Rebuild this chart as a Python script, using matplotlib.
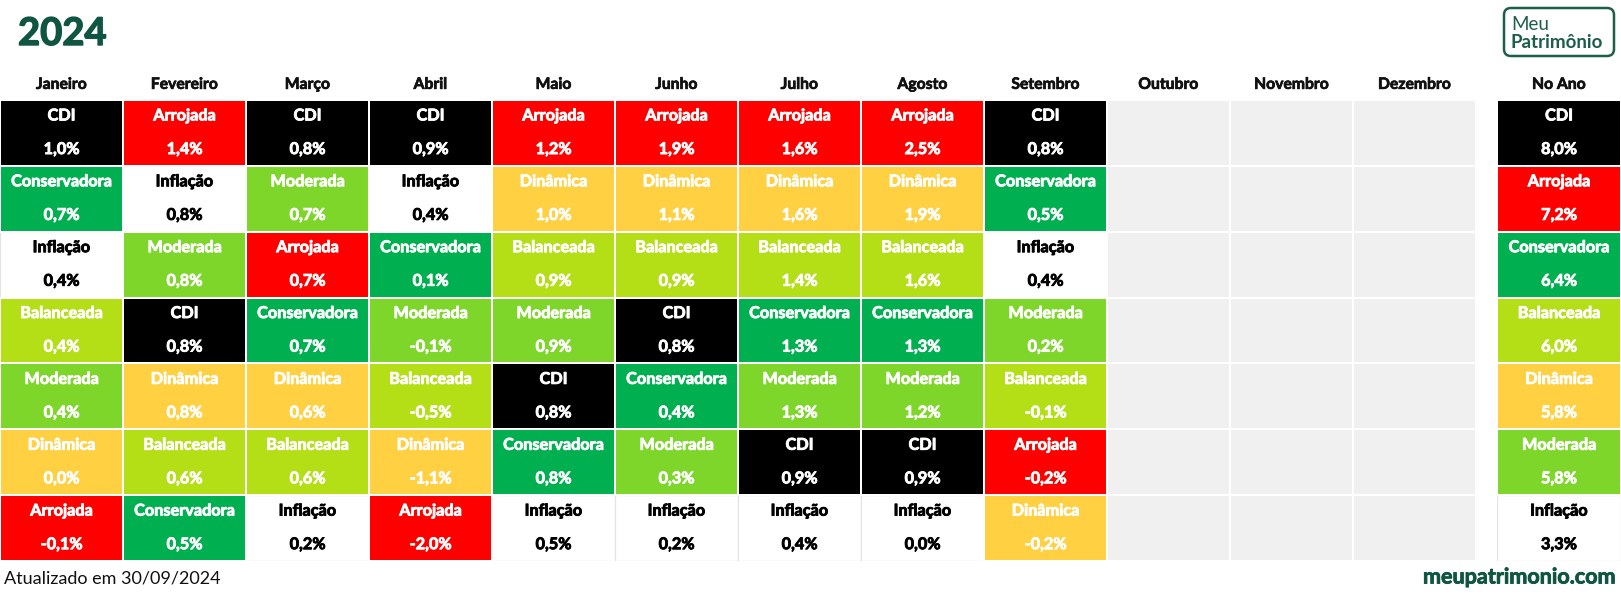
import matplotlib
matplotlib.use("Agg")
import matplotlib.pyplot as plt
from matplotlib.patches import Rectangle, FancyBboxPatch
import matplotlib.patheffects as pe

plt.rcParams['font.family'] = ['Lato', 'DejaVu Sans']

# ---------------- data ----------------
title = "2024"
months = ["Janeiro", "Fevereiro", "Março", "Abril", "Maio", "Junho", "Julho",
          "Agosto", "Setembro", "Outubro", "Novembro", "Dezembro"]

jan_names = ["CDI", "Conservadora", "Inflação", "Balanceada", "Moderada", "Dinâmica", "Arrojada"]
jan_vals = [1.0, 0.7, 0.4, 0.4, 0.4, 0.0, -0.1]
fev_names = ["Arrojada", "Inflação", "Moderada", "CDI", "Dinâmica", "Balanceada", "Conservadora"]
fev_vals = [1.4, 0.8, 0.8, 0.8, 0.8, 0.6, 0.5]
mar_names = ["CDI", "Moderada", "Arrojada", "Conservadora", "Dinâmica", "Balanceada", "Inflação"]
mar_vals = [0.8, 0.7, 0.7, 0.7, 0.6, 0.6, 0.2]
abr_names = ["CDI", "Inflação", "Conservadora", "Moderada", "Balanceada", "Dinâmica", "Arrojada"]
abr_vals = [0.9, 0.4, 0.1, -0.1, -0.5, -1.1, -2.0]
mai_names = ["Arrojada", "Dinâmica", "Balanceada", "Moderada", "CDI", "Conservadora", "Inflação"]
mai_vals = [1.2, 1.0, 0.9, 0.9, 0.8, 0.8, 0.5]
jun_names = ["Arrojada", "Dinâmica", "Balanceada", "CDI", "Conservadora", "Moderada", "Inflação"]
jun_vals = [1.9, 1.1, 0.9, 0.8, 0.4, 0.3, 0.2]
jul_names = ["Arrojada", "Dinâmica", "Balanceada", "Conservadora", "Moderada", "CDI", "Inflação"]
jul_vals = [1.6, 1.6, 1.4, 1.3, 1.3, 0.9, 0.4]
ago_names = ["Arrojada", "Dinâmica", "Balanceada", "Conservadora", "Moderada", "CDI", "Inflação"]
ago_vals = [2.5, 1.9, 1.6, 1.3, 1.2, 0.9, 0.0]
set_names = ["CDI", "Conservadora", "Inflação", "Moderada", "Balanceada", "Arrojada", "Dinâmica"]
set_vals = [0.8, 0.5, 0.4, 0.2, -0.1, -0.2, -0.2]

ano_names = ["CDI", "Arrojada", "Conservadora", "Balanceada", "Dinâmica", "Moderada", "Inflação"]
ano_vals = [8.0, 7.2, 6.4, 6.0, 5.8, 5.8, 3.3]

month_names = [jan_names, fev_names, mar_names, abr_names, mai_names, jun_names,
               jul_names, ago_names, set_names]
month_vals = [jan_vals, fev_vals, mar_vals, abr_vals, mai_vals, jun_vals,
              jul_vals, ago_vals, set_vals]

updated = "Atualizado em 30/09/2024"
site = "meupatrimonio.com"

# ---------------- style ----------------
colors = {
    "CDI": "#000000",
    "Arrojada": "#FF0000",
    "Conservadora": "#00B050",
    "Moderada": "#7ED62B",
    "Balanceada": "#B4DE15",
    "Dinâmica": "#FFD042",
    "Inflação": "#FFFFFF",
}
text_colors = {k: ("#000000" if k == "Inflação" else "#FFFFFF") for k in colors}
empty_color = "#F0F0F0"
dark_green = "#0F5542"

W, H = 1621, 595
fig = plt.figure(figsize=(W / 100, H / 100), dpi=100)

n_rows = 7
top_px, bot_px = 100, 561
grid_w_px = 1476
ano_x0, ano_w = 1497, 124

ax = fig.add_axes([0, 1 - bot_px / H, grid_w_px / W, (bot_px - top_px) / H])
ax2 = fig.add_axes([ano_x0 / W, 1 - bot_px / H, ano_w / W, (bot_px - top_px) / H])
for a, ncol in ((ax, 12), (ax2, 1)):
    a.set_xlim(0, ncol)
    a.set_ylim(n_rows, 0)
    a.axis("off")

fmt = lambda v: f"{v:.1f}%".replace(".", ",")
cell_fs = 11.7
lw = 1.45


def bold_fx(color, w=0.6):
    return [pe.withStroke(linewidth=w, foreground=color)]


def draw_cell(a, col, row, name, val):
    c = colors[name]
    if name == "Inflação":
        a.add_patch(Rectangle((col, row), 1, 1, facecolor=c, edgecolor="#E4E4E4",
                              lw=0.9, zorder=1))
    else:
        a.add_patch(Rectangle((col, row), 1, 1, facecolor=c, edgecolor="white",
                              lw=lw, zorder=2))
    tc = text_colors[name]
    a.text(col + 0.5, row + 0.25, name, ha="center", va="center", color=tc,
           fontsize=cell_fs, fontweight="bold", zorder=3, path_effects=bold_fx(tc))
    a.text(col + 0.5, row + 0.76, fmt(val), ha="center", va="center", color=tc,
           fontsize=cell_fs, fontweight="bold", zorder=3, path_effects=bold_fx(tc))


hdr_y = -0.23
for ci, m in enumerate(months):
    ax.text(ci + 0.5, hdr_y, m, ha="center", va="center", fontsize=11.3,
            fontweight="bold", color="#111111", clip_on=False,
            path_effects=bold_fx("#111111", 0.5))
    if ci < len(month_names):
        for ri, (nm, v) in enumerate(zip(month_names[ci], month_vals[ci])):
            draw_cell(ax, ci, ri, nm, v)
    else:
        for ri in range(n_rows):
            ax.add_patch(Rectangle((ci, ri), 1, 1, facecolor=empty_color,
                                   edgecolor="white", lw=lw, zorder=2))

ax2.text(0.5, hdr_y, "No Ano", ha="center", va="center", fontsize=11.3,
         fontweight="bold", color="#111111", clip_on=False,
         path_effects=bold_fx("#111111", 0.5))
for ri, (nm, v) in enumerate(zip(ano_names, ano_vals)):
    draw_cell(ax2, 0, ri, nm, v)

# title
fig.text(18 / W, 1 - 34 / H, title, ha="left", va="center", fontsize=27.5,
         fontweight="bold", color=dark_green, path_effects=bold_fx(dark_green, 1.0))

# logo
lax = fig.add_axes([0, 0, 1, 1], facecolor="none")
lax.set_xlim(0, W)
lax.set_ylim(H, 0)
lax.axis("off")
lax.add_patch(FancyBboxPatch((1504, 8), 110, 48, boxstyle="round,pad=0,rounding_size=7",
                             facecolor="white", edgecolor="#1D5E4B", lw=1.8))
lax.text(1511, 24, "Meu", ha="left", va="center", fontsize=13.5, color="#1D5E4B")
lax.text(1510, 42, "Patrimônio", ha="left", va="center", fontsize=13.5,
         fontweight="bold", color="#1D5E4B")

# footer
fig.text(4 / W, 1 - 578 / H, updated, ha="left", va="center", fontsize=13,
         color="#111111")
fig.text(1615 / W, 1 - 577 / H, site, ha="right", va="center", fontsize=15.5,
         fontweight="bold", color=dark_green, path_effects=bold_fx(dark_green, 0.6))

fig.savefig("out.png", dpi=100, facecolor="white")
